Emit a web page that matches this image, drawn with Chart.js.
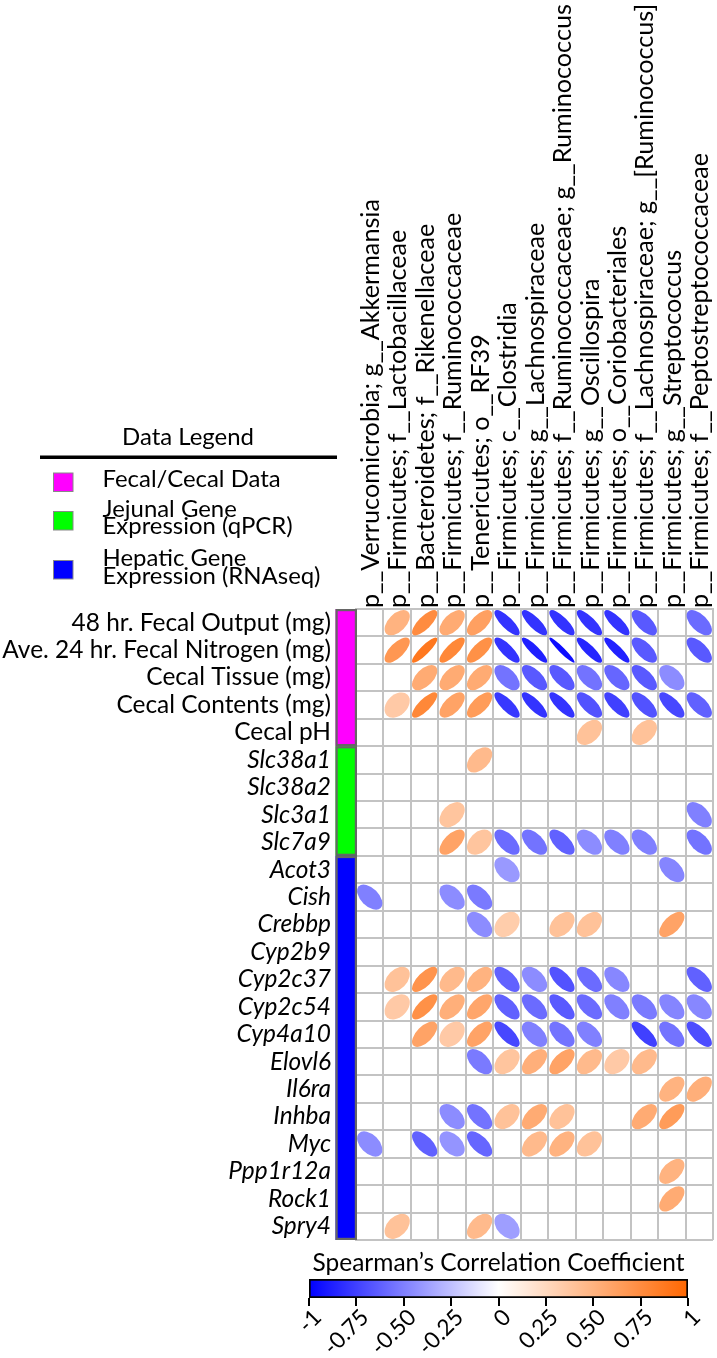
<!DOCTYPE html>
<html><head><meta charset="utf-8">
<script src="https://cdn.jsdelivr.net/npm/chart.js@4/dist/chart.umd.min.js"></script>
<style>
html,body{margin:0;padding:0;background:#fff;}
#wrap{position:relative;width:717px;height:1358px;overflow:hidden;}
#main{position:absolute;left:0;top:0;}
#cb{position:absolute;left:0;top:1240px;}
</style></head><body>
<div id="wrap"><canvas id="main" width="717" height="1358"></canvas><canvas id="cb" width="717" height="118"></canvas></div>
<script>
// ---------------- data ----------------
const columnLabels = [
  'p__Verrucomicrobia; g__Akkermansia',
  'p__Firmicutes; f__Lactobacillaceae',
  'p__Bacteroidetes; f__Rikenellaceae',
  'p__Firmicutes; f__Ruminococcaceae',
  'p__Tenericutes; o__RF39',
  'p__Firmicutes; c__Clostridia',
  'p__Firmicutes; g__Lachnospiraceae',
  'p__Firmicutes; f__Ruminococcaceae; g__Ruminococcus',
  'p__Firmicutes; g__Oscillospira',
  'p__Firmicutes; o__Coriobacteriales',
  'p__Firmicutes; f__Lachnospiraceae; g__[Ruminococcus]',
  'p__Firmicutes; g__Streptococcus',
  'p__Firmicutes; f__Peptostreptococcaceae'
];
const rowLabels = [
  '48 hr. Fecal Output (mg)', 'Ave. 24 hr. Fecal Nitrogen (mg)', 'Cecal Tissue (mg)',
  'Cecal Contents (mg)', 'Cecal pH',
  'Slc38a1', 'Slc38a2', 'Slc3a1', 'Slc7a9',
  'Acot3', 'Cish', 'Crebbp', 'Cyp2b9', 'Cyp2c37', 'Cyp2c54', 'Cyp4a10', 'Elovl6',
  'Il6ra', 'Inhba', 'Myc', 'Ppp1r12a', 'Rock1', 'Spry4'
];
const groupNames = [['Fecal/Cecal Data'], ['Jejunal Gene', 'Expression (qPCR)'], ['Hepatic Gene', 'Expression (RNAseq)']];
const groupColors = ['#FF00FF', '#00FF00', '#0000FF'];
const groupRowCounts = [5, 4, 14];
const italicFromRow = 5;
const _ = null;
const corrValues = [
  [_, 0.50, 0.75, 0.55, 0.62, -0.80, -0.80, -0.80, -0.80, -0.80, -0.65, _, -0.58],
  [_, 0.68, 0.88, 0.78, 0.72, -0.80, -0.88, -0.95, -0.85, -0.87, -0.65, _, -0.65],
  [_, _, 0.55, 0.55, 0.55, -0.55, -0.65, -0.65, -0.55, -0.60, -0.65, -0.45, _],
  [_, 0.35, 0.78, 0.60, 0.65, -0.78, -0.80, -0.80, -0.68, -0.75, -0.68, -0.72, -0.62],
  [_, _, _, _, _, _, _, _, 0.40, _, 0.40, _, _],
  [_, _, _, _, 0.45, _, _, _, _, _, _, _, _],
  [_, _, _, _, _, _, _, _, _, _, _, _, _],
  [_, _, _, 0.38, _, _, _, _, _, _, _, _, -0.50],
  [_, _, _, 0.60, 0.38, -0.58, -0.55, -0.62, -0.45, -0.50, -0.50, _, -0.55],
  [_, _, _, _, _, -0.40, _, _, _, _, _, -0.48, _],
  [-0.50, _, _, -0.45, -0.52, _, _, _, _, _, _, _, _],
  [_, _, _, _, -0.45, 0.33, _, 0.40, 0.40, _, _, 0.60, _],
  [_, _, _, _, _, _, _, _, _, _, _, _, _],
  [_, 0.40, 0.70, 0.45, 0.50, -0.62, -0.45, -0.68, -0.58, -0.47, _, _, -0.62],
  [_, 0.35, 0.72, 0.52, 0.58, -0.62, -0.58, -0.65, -0.58, -0.50, -0.52, -0.48, -0.47],
  [_, _, 0.60, 0.35, 0.60, -0.72, -0.50, -0.55, -0.50, _, -0.75, -0.55, -0.70],
  [_, _, _, _, -0.52, 0.38, 0.52, 0.60, 0.45, 0.35, 0.45, _, _],
  [_, _, _, _, _, _, _, _, _, _, _, 0.50, 0.52],
  [_, _, _, -0.45, -0.55, 0.40, 0.55, 0.40, _, _, 0.55, 0.65, _],
  [-0.45, _, -0.62, -0.42, -0.60, _, 0.45, 0.50, 0.40, _, _, _, _],
  [_, _, _, _, _, _, _, _, _, _, _, 0.50, _],
  [_, _, _, _, _, _, _, _, _, _, _, 0.55, _],
  [_, 0.40, _, _, 0.45, -0.38, _, _, _, _, _, _, _]
];
const colorbarTicks = [-1, -0.75, -0.5, -0.25, 0, 0.25, 0.5, 0.75, 1];
const colorbarTickLabels = ['-1', '-0.75', '-0.50', '-0.25', '0', '0.25', '0.50', '0.75', '1'];
const colorbarTitle = 'Spearman\u2019s Correlation Coefficient';
const legendTitle = 'Data Legend';

// ---------------- styling helpers ----------------
const FAMILY = 'Lato, "Open Sans", sans-serif';
Chart.defaults.font.family = FAMILY;
Chart.defaults.color = '#000';
const mctx = document.createElement('canvas').getContext('2d');
function fit(text, target, style) {
  mctx.font = (style || 'normal') + ' normal 100px ' + FAMILY;
  return 100 * target / mctx.measureText(text).width;
}
const rowFont = fit('Ave. 24 hr. Fecal Nitrogen (mg)', 329);
const colFont = fit(columnLabels[7], 604);
const legendFont = fit('Expression (RNAseq)', 218);
const legendTitleFont = fit(legendTitle, 132);
const cbTitleFont = fit(colorbarTitle, 372);
const cbTickFont = fit('-0.75', 53);

const NEG = [0, 0, 255], MID = [255, 255, 255], POS = [255, 102, 0];
function colorFor(v) {
  const t = Math.min(1, Math.abs(v));
  const end = v < 0 ? NEG : POS;
  const c = MID.map((m, i) => Math.round(m + (end[i] - m) * t));
  return 'rgb(' + c.join(',') + ')';
}

const points = [];
corrValues.forEach((row, r) => row.forEach((v, c) => {
  if (v !== null) points.push({ x: columnLabels[c], y: rowLabels[r], v: v });
}));

// ---------------- plugins ----------------
const ellipsePlugin = {
  id: 'ellipses',
  afterDatasetsDraw(chart) {
    const meta = chart.getDatasetMeta(0);
    const xs = chart.scales.x, ys = chart.scales.y;
    const cw = Math.abs(xs.getPixelForValue(1) - xs.getPixelForValue(0));
    const ch = Math.abs(ys.getPixelForValue(1) - ys.getPixelForValue(0));
    const s = Math.min(cw, ch) * 0.46;
    const ctx = chart.ctx;
    const data = chart.data.datasets[0].data;
    meta.data.forEach((el, i) => {
      const v = data[i].v;
      const a = s * Math.sqrt(1 + v), b = s * Math.sqrt(1 - v);
      ctx.save();
      ctx.beginPath();
      ctx.ellipse(el.x, el.y, Math.max(a, 0.5), Math.max(b, 0.5), -Math.PI / 4, 0, 2 * Math.PI);
      ctx.fillStyle = colorFor(v);
      ctx.fill();
      ctx.restore();
    });
  }
};

const groupPlugin = {
  id: 'groups',
  afterDraw(chart) {
    const ys = chart.scales.y;
    const ctx = chart.ctx;
    const ch = Math.abs(ys.getPixelForValue(1) - ys.getPixelForValue(0));
    const right = chart.chartArea.left + 1;
    const left = right - 21.5;
    let start = 0;
    groupRowCounts.forEach((n, g) => {
      const top = ys.getPixelForValue(start) - ch / 2;
      const bottom = ys.getPixelForValue(start + n - 1) + ch / 2;
      ctx.save();
      ctx.fillStyle = groupColors[g];
      ctx.fillRect(left, top, right - left, bottom - top);
      ctx.strokeStyle = '#666';
      ctx.lineWidth = 2.2;
      ctx.strokeRect(left + 1.1, top + 1.1, right - left - 2.2, bottom - top - 2.2);
      ctx.restore();
      start += n;
    });
  }
};

const legendPlugin = {
  id: 'dataLegend',
  afterDraw(chart) {
    const ctx = chart.ctx;
    ctx.save();
    ctx.fillStyle = '#000';
    ctx.textAlign = 'center';
    ctx.textBaseline = 'alphabetic';
    ctx.font = 'normal ' + legendTitleFont + 'px ' + FAMILY;
    ctx.fillText(legendTitle, 188, 444.5);
    ctx.fillRect(40, 455.5, 297, 3.5);
    const boxTops = [473, 511.5, 560.5];
    const baselines = [[487.3], [516.8, 534.3], [566.2, 584]];
    ctx.textAlign = 'left';
    ctx.font = 'normal ' + legendFont + 'px ' + FAMILY;
    groupNames.forEach((lines, g) => {
      ctx.fillStyle = groupColors[g];
      ctx.fillRect(53.5, boxTops[g], 19.5, 18.5);
      ctx.strokeStyle = '#888';
      ctx.lineWidth = 1;
      ctx.strokeRect(53.5, boxTops[g], 19.5, 18.5);
      ctx.fillStyle = '#000';
      lines.forEach((t, k) => ctx.fillText(t, 102.5, baselines[g][k]));
    });
    ctx.restore();
  }
};

// ---------------- main matrix chart ----------------
const GRID = '#c3c3c3';
new Chart(document.getElementById('main'), {
  type: 'scatter',
  data: { datasets: [{ data: points, pointRadius: 0, pointHoverRadius: 0, pointHitRadius: 0,
    backgroundColor: points.map(p => colorFor(p.v)) }] },
  options: {
    responsive: false, animation: false, devicePixelRatio: 1, events: [],
    layout: { padding: { left: 0, top: 0, right: 4, bottom: 118 } },
    plugins: { legend: { display: false }, tooltip: { enabled: false } },
    scales: {
      x: {
        type: 'category', labels: columnLabels, position: 'top', offset: true,
        grid: { offset: true, color: GRID, lineWidth: 2, drawTicks: false },
        border: { display: true, color: GRID, width: 2 },
        ticks: { autoSkip: false, minRotation: 90, maxRotation: 90, padding: 1, color: '#000',
          labelOffset: 1.2 * colFont + 1,
          font: { family: FAMILY, size: colFont, lineHeight: 1.2 } },
        afterFit(scale) { scale.height = 609; }
      },
      y: {
        type: 'category', labels: rowLabels, offset: true,
        grid: { offset: true, color: GRID, lineWidth: 2, drawTicks: false },
        border: { display: true, color: GRID, width: 2 },
        ticks: { autoSkip: false, padding: 25, color: '#000',
          font: (c) => ({ family: FAMILY, size: rowFont, style: c.index >= italicFromRow ? 'italic' : 'normal' }) },
        afterFit(scale) { scale.width = 356; }
      }
    }
  },
  plugins: [ellipsePlugin, groupPlugin, legendPlugin]
});

// ---------------- colour bar chart ----------------
const cbTitleTop = 23 - 0.6 * cbTitleFont;
const cbTitleBottom = 39 - 1.2 * cbTitleFont - cbTitleTop;
new Chart(document.getElementById('cb'), {
  type: 'bar',
  data: { labels: [''], datasets: [{
    data: [[colorbarTicks[0], colorbarTicks[colorbarTicks.length - 1]]],
    backgroundColor(c) {
      const chart = c.chart, xs = chart.scales.x;
      if (!xs || !chart.chartArea) return colorFor(0);
      const x0 = xs.getPixelForValue(colorbarTicks[0]);
      const x1 = xs.getPixelForValue(colorbarTicks[colorbarTicks.length - 1]);
      if (!isFinite(x0) || !isFinite(x1) || x0 === x1) return colorFor(0);
      const g = chart.ctx.createLinearGradient(x0, 0, x1, 0);
      for (let k = 0; k <= 40; k++) { const v = -1 + k / 20; g.addColorStop(k / 40, colorFor(v)); }
      return g;
    },
    borderColor: '#000', borderWidth: 2, borderSkipped: false,
    barPercentage: 1, categoryPercentage: 1
  }] },
  options: {
    indexAxis: 'y', responsive: false, animation: false, devicePixelRatio: 1, events: [],
    layout: { padding: { left: 309, right: 29, top: 0, bottom: 0 } },
    plugins: {
      legend: { display: false }, tooltip: { enabled: false },
      title: { display: true, text: colorbarTitle, color: '#000',
        font: { family: FAMILY, size: cbTitleFont, weight: 'normal', lineHeight: 1.2 },
        padding: { top: cbTitleTop, bottom: cbTitleBottom } }
    },
    scales: {
      x: {
        type: 'linear', min: -1, max: 1, position: 'bottom',
        afterBuildTicks(scale) { scale.ticks = colorbarTicks.map(v => ({ value: v })); },
        grid: { drawOnChartArea: false, drawTicks: true, tickLength: 8, color: '#000', lineWidth: 2 },
        border: { display: false },
        ticks: { autoSkip: false, minRotation: 45, maxRotation: 45, padding: -2, labelOffset: 8.5,
          color: '#000', font: { family: FAMILY, size: cbTickFont },
          callback: (v) => colorbarTickLabels[colorbarTicks.indexOf(v)] },
        afterFit(scale) { scale.height = 60; }
      },
      y: { display: false }
    }
  }
});
</script>
</body></html>
